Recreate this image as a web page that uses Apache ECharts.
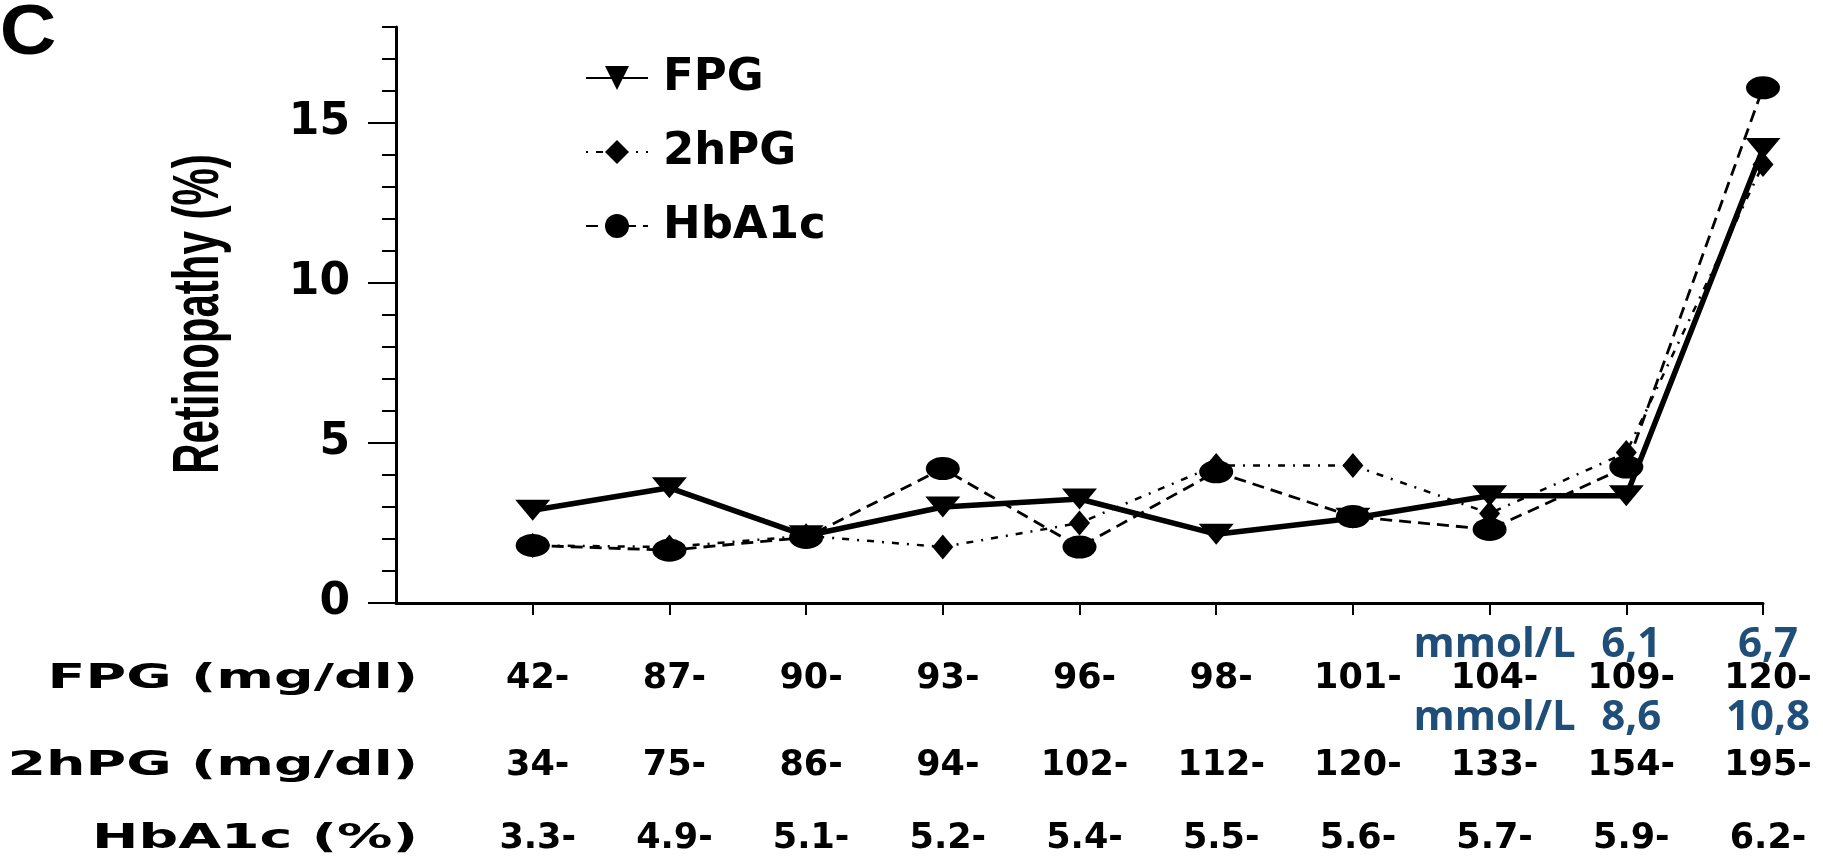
<!DOCTYPE html>
<html>
<head>
<meta charset="utf-8">
<script src="https://cdn.jsdelivr.net/npm/echarts@6/dist/echarts.min.js"></script>
<style>
  html, body { margin: 0; padding: 0; background: #ffffff; }
  #chart { width: 1823px; height: 863px; }
</style>
</head>
<body>
<div id="chart"></div>
<script>
// ---------- data ----------
const seriesNames = ['FPG', '2hPG', 'HbA1c'];
const groupIndex = ['0', '1', '2', '3', '4', '5', '6', '7', '8', '9', '10'];
const fpgValues   = [2.9, 3.6, 2.1, 3.0, 3.25, 2.15, 2.65, 3.35, 3.35, 14.2];
const hpgValues   = [1.8, 1.75, 2.1, 1.75, 2.5, 4.3, 4.3, 2.8, 4.7, 13.7];
const hba1cValues = [1.8, 1.65, 2.05, 4.2, 1.75, 4.1, 2.7, 2.3, 4.25, 16.1];

const fpgLabels   = ['42-', '87-', '90-', '93-', '96-', '98-', '101-', '104-', '109-', '120-'];
const hpgLabels   = ['34-', '75-', '86-', '94-', '102-', '112-', '120-', '133-', '154-', '195-'];
const hba1cLabels = ['3.3-', '4.9-', '5.1-', '5.2-', '5.4-', '5.5-', '5.6-', '5.7-', '5.9-', '6.2-'];
const fpgMmolLabels = ['', '', '', '', '', '', '', 'mmol/L', '6,1', '6,7'];
const hpgMmolLabels = ['', '', '', '', '', '', '', 'mmol/L', '8,6', '10,8'];
const rowTitles = ['FPG (mg/dl)', '2hPG (mg/dl)', 'HbA1c (%)'];
const yMajorTicks = [0, 5, 10, 15];
const yAxisTitle = 'Retinopathy (%)';
const panelLetter = 'C';

// ---------- styles ----------
const INK = '#000000';
const BLUE = '#1f4e79';
const WIDE = '"DejaVu Sans", "Liberation Sans", sans-serif';
const HELV = '"Liberation Sans", Arial, sans-serif';
const BLUEFONT = '"Open Sans", "Noto Sans", sans-serif';

function labelRow(labels, offset, fontFamily, fontSize, color) {
  return {
    type: 'category',
    gridIndex: 0,
    position: 'bottom',
    offset: offset,
    boundaryGap: false,
    data: [''].concat(labels),
    axisLine: { show: false },
    axisTick: { show: false },
    splitLine: { show: false },
    axisLabel: {
      interval: 0,
      margin: 0,
      hideOverlap: false,
      verticalAlign: 'middle',
      padding: [0, 0, 0, 10],
      color: color,
      fontFamily: fontFamily,
      fontWeight: 'bold',
      fontSize: fontSize
    }
  };
}

const chart = echarts.init(document.getElementById('chart'), null, { renderer: 'canvas' });

const option = {
  backgroundColor: '#ffffff',
  animation: false,
  grid: { left: 396, right: 60, top: 27, bottom: 260, containLabel: false },
  legend: {
    data: seriesNames,
    orient: 'vertical',
    left: 580,
    top: 50,
    itemWidth: 62,
    itemHeight: 30,
    itemGap: 28,
    selectedMode: false,
    textStyle: {
      color: INK,
      fontFamily: WIDE,
      fontWeight: 'bold',
      fontSize: 45,
      lineHeight: 46,
      padding: [0, 0, 0, 10]
    }
  },
  xAxis: [
    {
      type: 'category',
      gridIndex: 0,
      position: 'bottom',
      boundaryGap: false,
      data: groupIndex,
      axisLine: { show: true, lineStyle: { color: INK, width: 3 } },
      axisTick: {
        show: true,
        inside: false,
        length: 12,
        interval: function (idx) { return idx > 0; },
        lineStyle: { color: INK, width: 2 }
      },
      axisLabel: { show: false },
      splitLine: { show: false }
    },
    labelRow(fpgMmolLabels, 42, BLUEFONT, 42, BLUE),
    labelRow(fpgLabels, 76, WIDE, 35, INK),
    labelRow(hpgMmolLabels, 115, BLUEFONT, 42, BLUE),
    labelRow(hpgLabels, 163, WIDE, 35, INK),
    labelRow(hba1cLabels, 236, WIDE, 35, INK)
  ],
  yAxis: [
    {
      type: 'value',
      min: 0,
      max: 18,
      interval: 1,
      position: 'left',
      axisLine: { show: true, lineStyle: { color: INK, width: 3 } },
      axisTick: { show: true, inside: false, length: 14, lineStyle: { color: INK, width: 2 } },
      axisLabel: { show: false },
      splitLine: { show: false }
    },
    {
      type: 'value',
      min: 0,
      max: 18,
      interval: 5,
      position: 'left',
      axisLine: { show: false },
      axisTick: {
        show: true,
        inside: false,
        length: 28,
        customValues: yMajorTicks,
        lineStyle: { color: INK, width: 2 }
      },
      axisLabel: {
        show: true,
        customValues: yMajorTicks,
        margin: 46,
        color: INK,
        fontFamily: WIDE,
        fontWeight: 'bold',
        fontSize: 44
      },
      splitLine: { show: false }
    }
  ],
  series: [
    {
      name: seriesNames[0],
      type: 'line',
      xAxisIndex: 0,
      yAxisIndex: 0,
      data: fpgValues.map(function (v, i) { return [i + 1, v]; }),
      symbol: 'triangle',
      symbolRotate: 180,
      symbolSize: [35, 21],
      lineStyle: { color: INK, width: 5.5, type: 'solid' },
      itemStyle: { color: INK },
      z: 4
    },
    {
      name: seriesNames[1],
      type: 'line',
      xAxisIndex: 0,
      yAxisIndex: 0,
      data: hpgValues.map(function (v, i) { return [i + 1, v]; }),
      symbol: 'diamond',
      symbolSize: [21, 25],
      lineStyle: { color: INK, width: 2.5, type: [2, 8, 7, 8] },
      itemStyle: { color: INK },
      z: 3
    },
    {
      name: seriesNames[2],
      type: 'line',
      xAxisIndex: 0,
      yAxisIndex: 0,
      data: hba1cValues.map(function (v, i) { return [i + 1, v]; }),
      symbol: 'path://M0,10 A10,10 0 1,1 20,10 A10,10 0 1,1 0,10 Z',
      symbolSize: [34, 23],
      lineStyle: { color: INK, width: 2.8, type: [12, 7] },
      itemStyle: { color: INK },
      z: 3
    }
  ],
  graphic: [
    {
      type: 'text', x: 28, y: 35, scaleX: 1.12,
      style: { text: panelLetter, fill: INK, font: 'bold 70px ' + HELV, align: 'center', verticalAlign: 'middle' }
    },
    {
      type: 'text', x: 200, y: 314, rotation: Math.PI / 2, scaleY: 1.55,
      style: { text: yAxisTitle, fill: INK, font: 'bold 42px ' + HELV, align: 'center', verticalAlign: 'middle' }
    },
    {
      type: 'text', x: 418, y: 679, scaleX: 1.68,
      style: { text: rowTitles[0], fill: INK, font: 'bold 33px ' + WIDE, align: 'right', verticalAlign: 'middle' }
    },
    {
      type: 'text', x: 418, y: 766, scaleX: 1.68,
      style: { text: rowTitles[1], fill: INK, font: 'bold 33px ' + WIDE, align: 'right', verticalAlign: 'middle' }
    },
    {
      type: 'text', x: 418, y: 839, scaleX: 1.68,
      style: { text: rowTitles[2], fill: INK, font: 'bold 33px ' + WIDE, align: 'right', verticalAlign: 'middle' }
    }
  ]
};

chart.setOption(option);
</script>
</body>
</html>
